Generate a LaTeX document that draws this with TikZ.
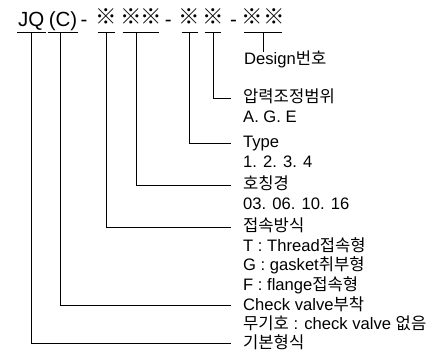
\documentclass[tikz,border=0pt]{standalone}
\usepackage{fontspec}
\setmainfont{Liberation Sans}
\newfontfamily\kr{Noto Sans CJK KR}
\usetikzlibrary{positioning}
\newcommand\rmark[1]{\makebox[#1]{\raisebox{2pt}{※}}}

\begin{document}
\begin{tikzpicture}[x = 1pt, y = -1pt]
  \tikzset{code/.style = {inner xsep = 0pt, inner ysep = 5pt, text height = 14pt, text depth = 0pt, font = \fontsize{20.5}{24}\selectfont}}
  \tikzset{sym/.style = {code, font = \fontsize{21.5}{24}\kr}}
  \tikzset{bar/.style = {line width = 0.8pt}}
  \tikzset{lead/.style = {bar, shorten > = 12pt}}
  \tikzset{note/.style = {anchor = west, inner sep = 0pt, text height = 13pt, text depth = 3pt, font = \fontsize{16.6}{19}\selectfont}}

  \useasboundingbox (0,0) rectangle (442,358);

  % code row
  \node[code, inner xsep = 1pt, anchor = base west] (base) at (17,27) {JQ};
  \node[code, inner xsep = 1pt, right = 2pt of base] (check) {(C)};
  \node[code, right = 2pt of check] (D1) {-};
  \node[sym, right = 10.5pt of D1] (conn) {\rmark{16pt}};
  \node[sym, right = 8pt of conn] (size) {\rmark{16pt}\hspace{4pt}\rmark{16pt}};
  \node[code, right = 5.7pt of size] (D2) {-};
  \node[sym, right = 9.6pt of D2] (type) {\rmark{16pt}};
  \node[sym, right = 7pt of type] (press) {\rmark{16pt}};
  \node[code, right = 8.5pt of press] (D3) {-};
  \node[sym, right = 6.8pt of D3] (design) {\rmark{16pt}\hspace{6pt}\rmark{16pt}};

  \foreach \n in {base, check, conn, size, type, press, design}
    \draw[bar] (\n.south west) -- (\n.south east);

  % notes
  \node[note] (designNote) at (244,60) {Design{\kr 번호}};
  \node[note] (pressNote) at (243,98) {\kr 압력조정범위};
  \node[note, below = 3pt of pressNote.south west, anchor = north west] (pressList) {A. G. E};
  \node[note] (typeNote) at (243,143) {Type};
  \node[note, below = 3pt of typeNote.south west, anchor = north west] (typeList) {1. 2. 3. 4};
  \node[note] (sizeNote) at (243,185) {\kr 호칭경};
  \node[note, below = 3pt of sizeNote.south west, anchor = north west] (sizeList) {03. 06. 10. 16};
  \node[note] (connNote) at (243,227) {\kr 접속방식};
  \node[note, below = 3pt of connNote.south west, anchor = north west] (connT) {T : Thread{\kr 접속형}};
  \node[note, below = 3pt of connT.south west, anchor = north west] (connG) {G : gasket{\kr 취부형}};
  \node[note, below = 3pt of connG.south west, anchor = north west] (connF) {F : flange{\kr 접속형}};
  \node[note] (checkNote) at (243,305) {Check valve{\kr 부착}};
  \node[note, below = 3pt of checkNote.south west, anchor = north west] (checkList) {{\kr 무기호} : check valve {\kr 없음}};
  \node[note] (baseNote) at (243,343) {\kr 기본형식};

  % leaders
  \draw[bar] (design.south) -- (design.south |- designNote.north);
  \draw[lead] (press.south) |- (pressNote.west);
  \draw[lead] (type.south) |- (typeNote.west);
  \draw[lead] ([xshift = -4pt]size.south) |- (sizeNote.west);
  \draw[lead] (conn.south) |- (connNote.west);
  \draw[lead] ([xshift = -3pt]check.south) |- (checkNote.west);
  \draw[lead] (base.south) |- (baseNote.west);

\end{tikzpicture}
\end{document}
